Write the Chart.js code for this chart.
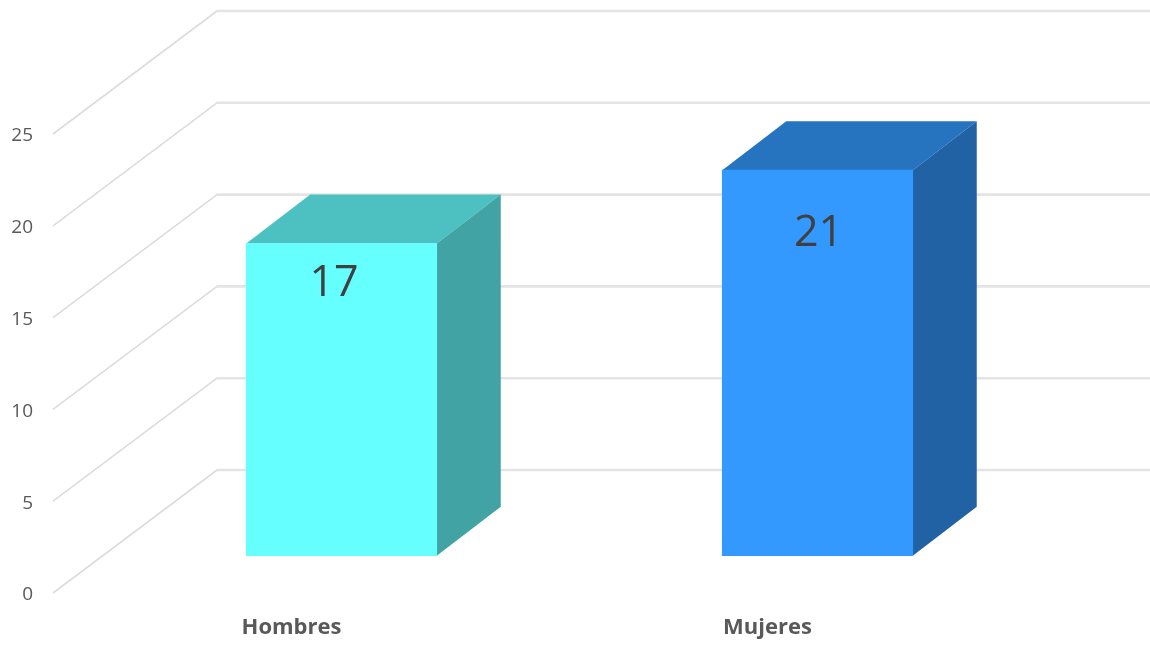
<!DOCTYPE html>
<html>
<head>
<meta charset="utf-8">
<style>
html,body{margin:0;padding:0;background:#fff;overflow:hidden}
canvas{display:block;filter:blur(0.45px)}
</style>
<script src="https://cdn.jsdelivr.net/npm/chart.js@4/dist/chart.umd.js"></script>
</head>
<body>
<canvas id="c" width="1150" height="646"></canvas>
<script>
const categories = ["Hombres", "Mujeres"];
const values = [17, 21];
const frontColors = ["#66FFFF", "#3399FF"];
const topColors = ["#4DC1C1", "#2673C0"];
const sideColors = ["#41A3A3", "#2062A3"];
const axisMax = 25;
const axisStep = 5;

// depth of the 3D projection, in pixels
const depthX = 64, depthY = 49;
// the wall starts left of the plot and recedes up to the right
const wallFront = 50.5, wallBack = 113.5, wallRise = 123;
// bars stand this many axis units above the front edge of the floor
const floorLift = 2.03;
// small placement tweaks for the value labels
const labelShift = [{x: -7.5, y: 40}, {x: 1, y: 64}];

const depthPlugin = {
  id: "depth",
  beforeDatasetsDraw(chart) {
    const {ctx, chartArea, scales} = chart;
    const y = scales.y;
    const fx = chartArea.left - wallFront;
    const bx = chartArea.left + wallBack;
    ctx.save();
    ctx.lineCap = "butt";
    y.ticks.forEach(t => {
      const py = y.getPixelForValue(t.value);
      ctx.strokeStyle = "#DCDCDC";
      ctx.lineWidth = 1.6;
      ctx.beginPath();
      ctx.moveTo(fx, py);
      ctx.lineTo(bx, py - wallRise);
      ctx.stroke();
      ctx.strokeStyle = "#E4E4E4";
      ctx.lineWidth = 2.6;
      ctx.beginPath();
      ctx.moveTo(bx - 0.5, py - wallRise);
      ctx.lineTo(chart.width, py - wallRise);
      ctx.stroke();
    });
    chart.getDatasetMeta(0).data.forEach((bar, i) => {
      const p = bar.getProps(["x", "y", "base", "width"], true);
      const l = p.x - p.width / 2, r = p.x + p.width / 2;
      ctx.fillStyle = topColors[i];
      ctx.beginPath();
      ctx.moveTo(l, p.y);
      ctx.lineTo(l + depthX, p.y - depthY);
      ctx.lineTo(r + depthX, p.y - depthY);
      ctx.lineTo(r, p.y);
      ctx.closePath();
      ctx.fill();
      ctx.fillStyle = sideColors[i];
      ctx.beginPath();
      ctx.moveTo(r, p.y);
      ctx.lineTo(r + depthX, p.y - depthY);
      ctx.lineTo(r + depthX, p.base - depthY);
      ctx.lineTo(r, p.base);
      ctx.closePath();
      ctx.fill();
    });
    ctx.restore();
  },
  afterDatasetsDraw(chart) {
    const {ctx} = chart;
    ctx.save();
    ctx.fillStyle = "#404040";
    ctx.font = '43px "Open Sans"';
    ctx.textAlign = "center";
    ctx.textBaseline = "middle";
    chart.getDatasetMeta(0).data.forEach((bar, i) => {
      ctx.fillText(String(values[i]), bar.x + labelShift[i].x, bar.y + labelShift[i].y);
    });
    ctx.restore();
  }
};

new Chart(document.getElementById("c"), {
  type: "bar",
  data: {
    labels: categories,
    datasets: [{
      data: values,
      yAxisID: "yBar",
      backgroundColor: frontColors,
      borderWidth: 0,
      barThickness: 190.5
    }]
  },
  options: {
    responsive: false,
    animation: false,
    devicePixelRatio: 1,
    layout: {padding: {top: 134, right: 94.5, left: 0, bottom: 0}},
    plugins: {legend: {display: false}, title: {display: false}, tooltip: {enabled: false}},
    scales: {
      x: {
        grid: {display: false, drawTicks: false},
        border: {display: false},
        ticks: {
          color: "#595959",
          font: {family: "Open Sans", size: 22, weight: "bold"},
          labelOffset: -50,
          padding: 22,
          maxRotation: 0,
          autoSkip: false
        },
        afterFit(s) { s.height = 53; s.paddingLeft = 0; s.paddingRight = 0; }
      },
      y: {
        min: 0,
        max: axisMax,
        grid: {display: false, drawTicks: false},
        border: {display: false},
        ticks: {
          stepSize: axisStep,
          color: "#595959",
          font: {family: "Open Sans", size: 19},
          padding: 70.5,
          labelOffset: 2
        },
        afterFit(s) { s.width = 103.5; s.paddingTop = 0; s.paddingBottom = 0; }
      },
      yBar: {
        display: false,
        min: -floorLift,
        max: axisMax - floorLift
      }
    }
  },
  plugins: [depthPlugin]
});
</script>
</body>
</html>
